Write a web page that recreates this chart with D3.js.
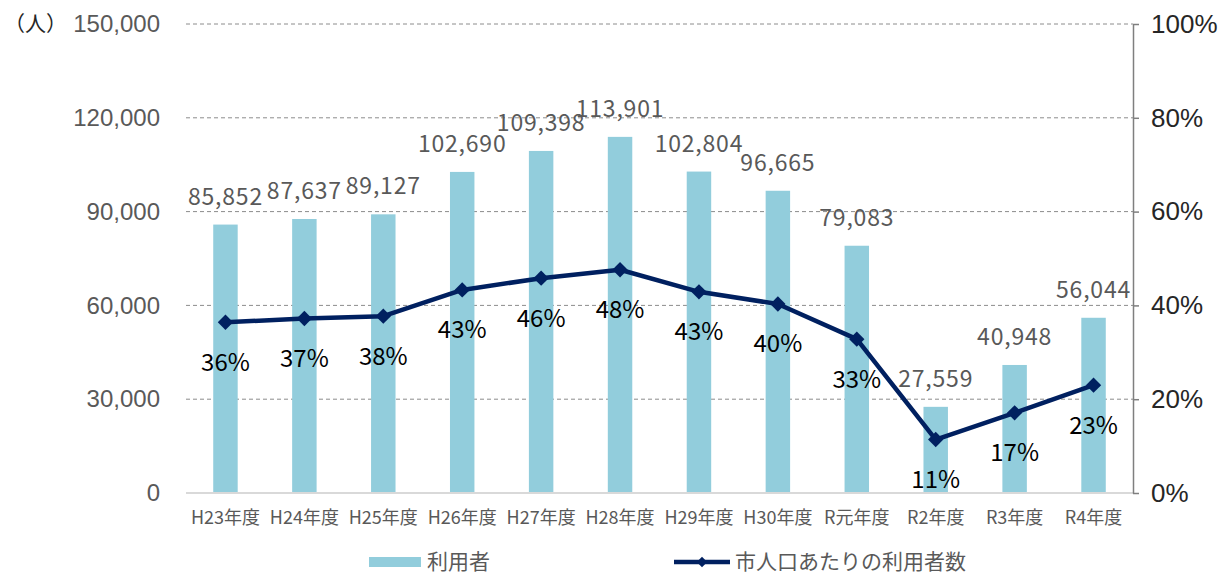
<!DOCTYPE html>
<html>
<head>
<meta charset="utf-8">
<script src="https://cdn.jsdelivr.net/npm/d3@7"></script>
<style>
  body { margin: 0; background: #fff; }
  text { font-family: "Liberation Sans Narrow", "Noto Sans CJK JP", sans-serif; }
</style>
</head>
<body>
<div id="chart"></div>
<script>
const years = ["H23年度", "H24年度", "H25年度", "H26年度", "H27年度", "H28年度",
  "H29年度", "H30年度", "R元年度", "R2年度", "R3年度", "R4年度"];
const users = [85852, 87637, 89127, 102690, 109398, 113901, 102804, 96665, 79083, 27559, 40948, 56044];
const ratio = [0.364, 0.372, 0.377, 0.433, 0.458, 0.476, 0.429, 0.403, 0.328, 0.114, 0.171, 0.230];
const leftTicks = [0, 30000, 60000, 90000, 120000, 150000];
const rightTicks = [0, 0.2, 0.4, 0.6, 0.8, 1.0];

const width = 1224, height = 577;
const margin = { left: 186, right: 91, top: 24, bottom: 84 };

const svg = d3.select("#chart").append("svg")
  .attr("width", width).attr("height", height);

const x = d3.scaleBand().domain(years)
  .range([margin.left, width - margin.right])
  .paddingInner(0.69).paddingOuter(0.345);
const y = d3.scaleLinear().domain([0, 150000]).range([height - margin.bottom, margin.top]);
const y2 = d3.scaleLinear().domain([0, 1]).range([height - margin.bottom, margin.top]);
const cx = d => x(d) + x.bandwidth() / 2;

// gridlines
svg.append("g").selectAll("line")
  .data(leftTicks.slice(1))
  .join("line")
  .attr("x1", margin.left).attr("x2", width - margin.right)
  .attr("y1", d => y(d)).attr("y2", d => y(d))
  .attr("stroke", "#8c8c8c").attr("stroke-width", 1)
  .attr("stroke-dasharray", "4,3");

// bars
svg.append("g").selectAll("rect")
  .data(users)
  .join("rect")
  .attr("x", (d, i) => x(years[i]))
  .attr("width", x.bandwidth())
  .attr("y", d => y(d))
  .attr("height", d => y(0) - y(d))
  .attr("fill", "#92CDDC");

// x axis line
svg.append("line")
  .attr("x1", margin.left).attr("x2", width - margin.right)
  .attr("y1", y(0)).attr("y2", y(0))
  .attr("stroke", "#d9d9d9").attr("stroke-width", 2);

// left axis
const leftAxis = svg.append("g")
  .attr("transform", `translate(${margin.left},0)`)
  .call(d3.axisLeft(y).tickValues(leftTicks).tickSize(0).tickPadding(26)
    .tickFormat(d3.format(",")));
leftAxis.select(".domain").remove();
leftAxis.selectAll("text").attr("fill", "#595959").style("font-size", "24px")
  .style("font-family", "'Liberation Sans Narrow', sans-serif");

svg.append("text")
  .attr("x", 4).attr("y", y(150000)).attr("dy", "0.35em")
  .attr("fill", "#262626").style("font-size", "21px")
  .style("font-family", "'Noto Sans CJK JP', sans-serif")
  .text("（人）");

// right axis
const rightAxis = svg.append("g")
  .attr("transform", `translate(${width - margin.right},0)`)
  .call(d3.axisRight(y2).tickValues(rightTicks).tickSize(6).tickSizeOuter(0).tickPadding(12)
    .tickFormat(d3.format(".0%")));
rightAxis.select(".domain").attr("stroke", "#7f7f7f").attr("stroke-width", 1.5);
rightAxis.selectAll(".tick line").attr("stroke", "#7f7f7f").attr("stroke-width", 1.5);
rightAxis.selectAll("text").attr("fill", "#262626").style("font-size", "26px")
  .style("font-family", "'Liberation Sans Narrow', sans-serif");

// x labels
svg.append("g").selectAll("text")
  .data(years)
  .join("text")
  .attr("x", d => cx(d)).attr("y", y(0) + 25)
  .attr("dy", "0.35em")
  .attr("text-anchor", "middle")
  .attr("fill", "#595959").style("font-size", "18px")
  .text(d => d);

// bar value labels
svg.append("g").selectAll("text")
  .data(users)
  .join("text")
  .attr("x", (d, i) => cx(years[i]))
  .attr("y", d => y(d) - 28)
  .attr("dy", "0.35em")
  .attr("text-anchor", "middle")
  .attr("fill", "#595959").style("font-size", "23px")
  .style("letter-spacing", "0.8px")
  .text(d => d3.format(",")(d));

// line
const line = d3.line().x((d, i) => cx(years[i])).y(d => y2(d));
svg.append("path")
  .datum(ratio)
  .attr("d", line)
  .attr("fill", "none")
  .attr("stroke", "#002060").attr("stroke-width", 4.5)
  .attr("stroke-linejoin", "round");

const diamond = d3.symbol().type(d3.symbolDiamond2).size(150);
svg.append("g").selectAll("path")
  .data(ratio)
  .join("path")
  .attr("transform", (d, i) => `translate(${cx(years[i])},${y2(d)})`)
  .attr("d", diamond)
  .attr("fill", "#002060");

// percent labels
svg.append("g").selectAll("text")
  .data(ratio)
  .join("text")
  .attr("x", (d, i) => cx(years[i]))
  .attr("y", d => y2(d) + 40)
  .attr("dy", "0.35em")
  .attr("text-anchor", "middle")
  .attr("fill", "#000").style("font-size", "24px")
  .text(d => Math.round(d * 100) + "%");

// legend
const legY = 562;
svg.append("rect")
  .attr("x", 369).attr("y", legY - 5).attr("width", 52).attr("height", 10)
  .attr("fill", "#92CDDC");
svg.append("text")
  .attr("x", 427).attr("y", legY).attr("dy", "0.35em")
  .attr("fill", "#595959").style("font-size", "21px")
  .style("font-family", "'Noto Sans CJK JP', sans-serif")
  .text("利用者");
svg.append("line")
  .attr("x1", 674).attr("x2", 730).attr("y1", legY).attr("y2", legY)
  .attr("stroke", "#002060").attr("stroke-width", 4.5);
svg.append("path")
  .attr("transform", `translate(702,${legY})`)
  .attr("d", d3.symbol().type(d3.symbolDiamond2).size(70))
  .attr("fill", "#002060");
svg.append("text")
  .attr("x", 735).attr("y", legY).attr("dy", "0.35em")
  .attr("fill", "#595959").style("font-size", "21px")
  .style("font-family", "'Noto Sans CJK JP', sans-serif")
  .text("市人口あたりの利用者数");
</script>
</body>
</html>
